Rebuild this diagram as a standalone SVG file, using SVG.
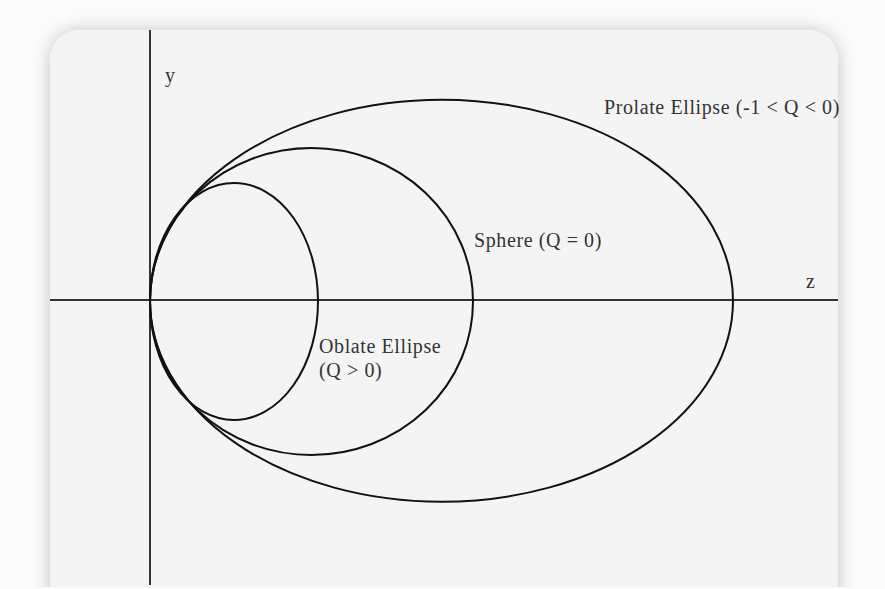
<svg xmlns="http://www.w3.org/2000/svg" width="885" height="589" viewBox="0 0 885 589">
  <defs>
    <filter id="shadow" x="-10%" y="-10%" width="120%" height="120%">
      <feGaussianBlur in="SourceAlpha" stdDeviation="9"/>
      <feComponentTransfer><feFuncA type="linear" slope="0.22"/></feComponentTransfer>
      <feMerge><feMergeNode/><feMergeNode in="SourceGraphic"/></feMerge>
    </filter>
    <style>
      .curve { fill: none; stroke: #111; stroke-width: 2; }
      .axis { fill: none; stroke: #333; stroke-width: 2; }
      .lbl { font-family: "Liberation Serif", "Times New Roman", serif; font-size: 20px; fill: #333; letter-spacing: 0.6px; }
    </style>
  </defs>
  <rect x="0" y="0" width="885" height="589" fill="#fbfbfb"/>
  <path id="card" d="M50,620 V60 A30,30 0 0 1 80,30 H808 A30,30 0 0 1 838,60 V620 Z" fill="#f4f4f4" filter="url(#shadow)"/>
  <rect x="0" y="587" width="885" height="2" fill="#fbfbfb"/>
  <g id="axes">
    <line class="axis" x1="150" y1="30" x2="150" y2="585" stroke="#555"/>
    <line class="axis" x1="50" y1="300" x2="838" y2="300"/>
    <text class="lbl" x="165" y="82">y</text>
    <text class="lbl" x="806" y="288">z</text>
  </g>
  <g id="prolate">
    <ellipse class="curve" cx="441.5" cy="300.75" rx="291.5" ry="201"/>
    <text class="lbl" x="604" y="114">Prolate Ellipse (-1 &lt; Q &lt; 0)</text>
  </g>
  <g id="sphere">
    <ellipse class="curve" cx="311.5" cy="301.5" rx="161.5" ry="153.5"/>
    <text class="lbl" x="474" y="247">Sphere (Q = 0)</text>
  </g>
  <g id="oblate">
    <ellipse class="curve" cx="234" cy="301.5" rx="84" ry="118.5"/>
    <text class="lbl" x="319" y="353">Oblate Ellipse</text>
    <text class="lbl" x="319" y="377">(Q &gt; 0)</text>
  </g>
</svg>
